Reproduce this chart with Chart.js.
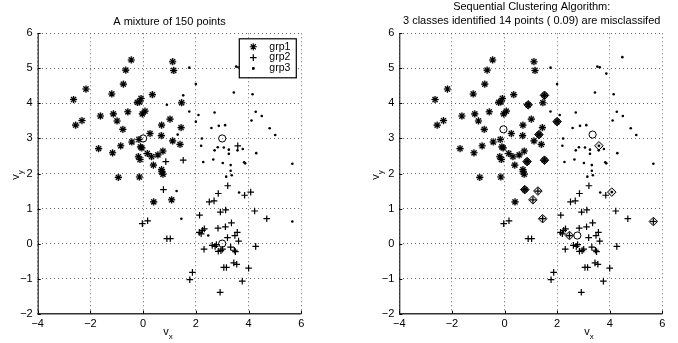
<!DOCTYPE html>
<html>
<head>
<meta charset="utf-8">
<script src="https://cdn.jsdelivr.net/npm/chart.js@4.4.1/dist/chart.umd.min.js"></script>
<style>
  body { margin: 0; background: #fff; }
  #wrap { position: relative; width: 678px; height: 343px; }
  .box { position: absolute; top: 0; width: 339px; height: 343px; }
</style>
</head>
<body>
<div id="wrap">
  <div class="box" style="left:0"><canvas id="left" width="339" height="343"></canvas></div>
  <div class="box" style="left:339px"><canvas id="right" width="339" height="343"></canvas></div>
</div>
<script>
// the three generated groups
var grp1 = [[-0.45,5.24],[-0.66,4.95],[-0.75,4.55],[-2.17,4.41],[-2.64,4.11],[-1.19,4.27],[0.35,4.25],[-0.08,4.14],[-0.22,4.03],[-0.14,4.04],
  [0.07,3.78],[-0.03,3.70],[-0.58,3.76],[-1.13,3.70],[-1.62,3.64],[-2.32,3.51],[-2.56,3.38],[-0.99,3.50],[-0.77,3.26],[0.70,3.38],
  [1.02,3.55],[0.26,3.14],[0.69,3.08],[-0.43,2.90],[-0.16,2.97],[-0.10,2.76],[-0.05,2.73],[-1.69,2.71],[-1.16,2.59],[-0.85,2.79],
  [0.16,2.57],[0.32,2.48],[0.56,2.53],[0.75,2.64],[-0.18,2.48],[-0.12,2.40],[0.39,2.24],[0.70,2.11],[-0.94,1.89],[-0.14,1.90],
  [0.71,2.05],[0.75,1.98],[0.40,1.19],[1.08,1.25],[1.12,5.19],[1.16,4.94],[1.46,4.02],[1.44,3.31],[1.12,2.93],[1.40,2.83]];
var grp2 = [[0.86,2.34],[1.52,2.38],[3.59,2.79],[0.77,1.54],[-0.03,0.57],[0.17,0.65],[0.90,0.14],[1.03,0.14],[3.21,1.65],[2.85,1.43],
  [3.85,1.38],[4.08,1.47],[2.51,1.19],[2.69,1.22],[2.93,0.90],[3.13,0.96],[2.14,0.81],[4.23,0.93],[4.69,0.71],[3.35,0.59],
  [2.84,0.44],[3.12,0.48],[3.57,0.32],[3.48,0.23],[2.13,0.32],[2.25,0.38],[2.32,0.42],[3.20,0.17],[3.62,0.07],[2.62,-0.05],
  [2.73,-0.08],[2.31,-0.16],[2.85,-0.22],[3.01,-0.16],[3.32,-0.10],[3.46,-0.19],[3.50,-0.23],[4.27,-0.08],[3.06,-0.68],[3.16,-0.68],
  [3.44,-0.55],[3.55,-0.59],[4.00,-0.70],[1.87,-0.82],[1.77,-1.03],[3.76,-1.07],[2.92,-1.39],[2.20,0.28],[2.78,-0.03],[2.95,-0.20]];
var grp3 = [[1.75,5.02],[3.53,5.05],[3.62,5.03],[3.87,4.85],[4.48,5.32],[2.00,4.55],[3.44,4.31],[4.15,4.26],[1.52,4.23],[1.75,3.77],
  [2.10,3.67],[2.71,3.74],[4.27,3.76],[4.50,3.64],[2.00,3.48],[4.11,3.51],[0.90,3.96],[1.31,3.11],[2.59,3.30],[2.87,3.36],
  [3.11,3.38],[4.80,3.29],[5.01,3.10],[2.23,3.00],[2.20,2.79],[2.83,2.75],[3.06,2.74],[2.71,2.66],[3.25,2.68],[3.58,2.66],
  [3.78,2.70],[3.25,2.56],[4.29,2.58],[2.28,2.33],[2.66,2.40],[3.02,2.30],[3.32,2.24],[3.83,2.32],[3.87,2.29],[5.66,2.28],
  [3.32,2.08],[3.15,1.91],[3.36,1.95],[1.27,1.50],[3.64,1.46],[1.45,0.71],[5.66,0.63],[2.47,0.23]];

var trueCenters = [[0,3],[3,3],[3,0]];
var foundCenters = [[-0.04,3.26],[3.35,3.11],[2.77,0.23]];

// points the algorithm put in the wrong class: x, y, class given
var moved = [[1.52,4.23,1],[0.90,3.96,1],[2.00,3.48,1],[1.31,3.11,1],[1.52,2.38,1],[0.86,2.34,1],[0.77,1.54,1],
  [1.27,1.50,2],[1.08,1.25,2],[1.45,0.71,2],[3.59,2.79,3],[4.08,1.47,3],[5.66,0.63,2],[2.47,0.23,2]];

var xTicks = [-4, -2, 0, 2, 4, 6];
var yTicks = [-2, -1, 0, 1, 2, 3, 4, 5, 6];

var FONT = '"Liberation Sans", Arial, Helvetica, sans-serif';

function pts(arr) {
  return arr.map(function(p) { return {x: p[0], y: p[1]}; });
}

// classes found by the algorithm
var cls = {1: [], 2: [], 3: []};
[grp1, grp2, grp3].forEach(function(g, gi) {
  g.forEach(function(p) {
    var c = gi + 1;
    moved.forEach(function(m) { if (m[0] === p[0] && m[1] === p[1]) c = m[2]; });
    cls[c].push(p);
  });
});

function minus(v) { return v < 0 ? '\u2212' + Math.abs(v) : '' + v; }

function starSet(label, data) {
  return {label: label, data: pts(data), pointStyle: 'star', radius: 3.6, borderColor: '#000', borderWidth: 1.1, backgroundColor: '#000'};
}
function crossSet(label, data) {
  return {label: label, data: pts(data), pointStyle: 'cross', radius: 3.3, borderColor: '#000', borderWidth: 1.2, backgroundColor: '#000'};
}
function dotSet(label, data) {
  return {label: label, data: pts(data), pointStyle: 'circle', radius: 1.3, borderWidth: 0, backgroundColor: '#000'};
}
function haloSet(data) {
  return {label: 'halo', data: pts(data), pointStyle: 'circle', radius: 3.4, borderWidth: 0, backgroundColor: 'rgba(0,0,0,0.28)'};
}
function centerSet(data) {
  return {label: 'centers', data: pts(data), pointStyle: 'circle', radius: 3.6, borderColor: '#000', borderWidth: 1, backgroundColor: 'rgba(0,0,0,0)'};
}

// axes, ticks, titles and labels in matlab style
var decor = {
  id: 'decor',
  afterDatasetsDraw: function(chart, args, o) {
    var a = chart.chartArea, c = chart.ctx;
    var xs = chart.scales.x, ys = chart.scales.y;
    c.save();
    c.strokeStyle = '#000';
    c.lineWidth = 1;
    c.beginPath();
    c.moveTo(a.left + 0.5, a.top);
    c.lineTo(a.left + 0.5, a.bottom);
    c.stroke();
    c.strokeStyle = '#333';
    c.lineWidth = 1.6;
    c.beginPath();
    c.moveTo(a.left, a.bottom);
    c.lineTo(a.right, a.bottom);
    c.stroke();
    c.lineWidth = 1;
    c.strokeStyle = '#000';
    c.beginPath();
    xTicks.forEach(function(t) {
      var px = Math.round(xs.getPixelForValue(t)) + 0.5;
      c.moveTo(px, a.bottom); c.lineTo(px, a.bottom - 3);
    });
    yTicks.forEach(function(t) {
      var py = Math.round(ys.getPixelForValue(t)) + 0.5;
      c.moveTo(a.left, py); c.lineTo(a.left + 3, py);
    });
    c.stroke();
    c.restore();
  },
  afterDraw: function(chart, args, o) {
    var c = chart.ctx;
    c.save();
    c.fillStyle = '#000';
    c.font = '11px ' + FONT;
    c.textAlign = 'center';
    c.textBaseline = 'middle';
    o.title.forEach(function(line, i) { c.fillText(line, o.titleX, o.titleY[i]); });
    // x label v_x
    subLabel(c, o.xLabelX, 334.5, 'x');
    // y label v_y
    c.translate(o.yLabelX, 176);
    c.rotate(-Math.PI / 2);
    subLabel(c, 0, 0, 'y');
    c.restore();
  }
};

function subLabel(c, x, y, sub) {
  c.textAlign = 'left';
  c.textBaseline = 'alphabetic';
  c.font = '11px ' + FONT;
  var w = c.measureText('v').width;
  c.fillText('v', x - w / 2 - 1, y);
  c.font = '8px ' + FONT;
  c.fillText(sub, x + w / 2 - 1, y + 4);
}

// boxed legend in the upper right corner of the left plot
var boxLegend = {
  id: 'boxLegend',
  afterDatasetsDraw: function(chart, args, o) {
    if (!o.show) return;
    var c = chart.ctx, a = chart.chartArea;
    var bx = a.right - 62.5, by = a.top + 5, bw = 57, bh = 39;
    c.save();
    c.fillStyle = '#fff';
    c.fillRect(bx, by, bw, bh);
    c.strokeStyle = '#000';
    c.lineWidth = 1.2;
    c.strokeRect(bx + 0.5, by + 0.5, bw, bh);
    c.font = '10.5px ' + FONT;
    c.textAlign = 'left';
    c.textBaseline = 'middle';
    c.fillStyle = '#000';
    o.items.forEach(function(idx, i) {
      var ds = chart.data.datasets[idx];
      var y = by + 8.5 + i * 10.8;
      c.strokeStyle = '#000';
      c.fillStyle = '#000';
      c.lineWidth = ds.borderWidth || 1;
      Chart.helpers.drawPoint(c, {pointStyle: ds.pointStyle, radius: ds.radius, borderWidth: ds.borderWidth, rotation: 0}, bx + 14.5, y);
      if (ds.pointStyle === 'circle') c.fill();
      c.fillText(ds.label, bx + 30.5, y);
    });
    c.restore();
  }
};

function axisOpts(chartLeft, chartRight) {
  var grid = {color: '#666', lineWidth: 1, drawTicks: false};
  var border = {display: false, dash: [1, 3]};
  var tickFont = {family: FONT, size: 11};
  return {
    x: {
      type: 'linear', min: -4, max: 6,
      afterBuildTicks: function(s) { s.ticks = xTicks.map(function(v) { return {value: v}; }); },
      ticks: {font: tickFont, color: '#000', padding: 4, maxRotation: 0, callback: minus},
      grid: grid, border: border,
      afterFit: function(s) { s.height = 29.3; }
    },
    y: {
      type: 'linear', min: -2, max: 6,
      afterBuildTicks: function(s) { s.ticks = yTicks.map(function(v) { return {value: v}; }); },
      ticks: {font: tickFont, color: '#000', padding: 5, callback: minus},
      grid: grid, border: border,
      afterFit: function(s) { s.width = chartLeft; }
    }
  };
}

function makeChart(id, datasets, left, right, texts, legend) {
  return new Chart(document.getElementById(id), {
    type: 'scatter',
    data: {datasets: datasets},
    options: {
      responsive: false,
      animation: false,
      layout: {padding: {left: 0, right: 339 - right, top: 33.3, bottom: 0}, autoPadding: false},
      scales: axisOpts(left, right),
      plugins: {
        legend: {display: false},
        tooltip: {enabled: false},
        decor: texts,
        boxLegend: legend
      }
    },
    plugins: [decor, boxLegend]
  });
}

// left: the mixture
makeChart('left', [
  centerSet(trueCenters),
  starSet('grp1', grp1),
  crossSet('grp2', grp2),
  dotSet('grp3', grp3),
  haloSet(grp1)
], 37.7, 301.3, {
  title: ['A mixture of 150 points'], titleX: 169.5, titleY: [21.5],
  xLabelX: 167, yLabelX: 18.5
}, {show: true, items: [1, 2, 3]});

// right: sequential clustering result
var movedPts = moved.map(function(m) { return {x: m[0], y: m[1], c: m[2]}; });
makeChart('right', [
  centerSet(foundCenters),
  starSet('class1', cls[1]),
  crossSet('class2', cls[2]),
  dotSet('class3', cls[3]),
  haloSet(cls[1]),
  {label: 'misclassified', data: movedPts, pointStyle: 'rectRot', radius: 4.3, borderColor: '#000', borderWidth: 1,
   backgroundColor: function(ctx) { return ctx.raw && ctx.raw.c === 1 ? 'rgba(0,0,0,0.55)' : 'rgba(0,0,0,0.12)'; }}
], 60.3, 323.3, {
  title: ['Sequential Clustering Algorithm:', '3 classes identified 14 points ( 0.09) are misclassifed'],
  titleX: 192.7, titleY: [7, 21],
  xLabelX: 249, yLabelX: 40
}, {show: false, items: []});
</script>
</body>
</html>
